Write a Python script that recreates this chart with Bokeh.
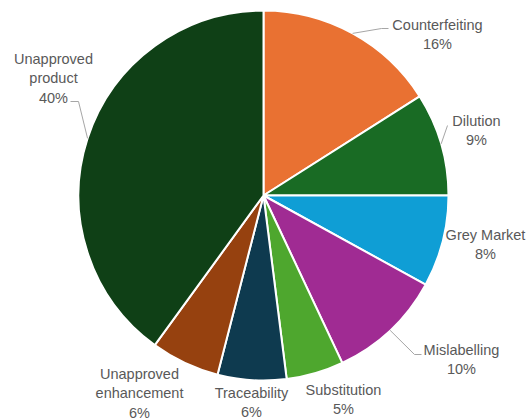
import math
from bokeh.plotting import figure
from bokeh.models import Range1d, ColumnDataSource
from bokeh.core.properties import value
from bokeh.embed import file_html
from bokeh.resources import INLINE

# ---- data ----
categories = ["Counterfeiting", "Dilution", "Grey Market", "Mislabelling",
              "Substitution", "Traceability", "Unapproved enhancement", "Unapproved product"]
shares = [16, 9, 8, 10, 5, 6, 6, 40]
label_lines = [["Counterfeiting"], ["Dilution"], ["Grey Market"], ["Mislabelling"],
               ["Substitution"], ["Traceability"], ["Unapproved", "enhancement"],
               ["Unapproved", "product"]]
colors = ["#E97132", "#196B24", "#0F9ED5", "#A02B93",
          "#4EA72E", "#0E3A4F", "#96410F", "#0F4016"]

# ---- layout (pixel coordinates, top-left origin) ----
W, H = 527, 419
CX, CY, R = 263, 195, 185
# label block: centre x, y of first line
label_pos = [(437, 24), (476, 120), (485, 234), (461, 349),
             (343, 389), (251, 392), (139, 373), (53, 58)]
line_gap = 19.5
# leader lines: elbow points after the rim point (None = no leader)
leaders = [[(381, 28), (388, 28)], [(447, 125)], None, [(414, 354), (421, 354)],
           None, None, None, [(78, 101), (70, 101)]]

p = figure(width=W, height=H, x_range=Range1d(0, W), y_range=Range1d(0, H),
           output_backend="svg", toolbar_location=None,
           x_axis_location=None, y_axis_location=None, min_border=0)
p.grid.visible = False
p.outline_line_color = None
p.background_fill_color = "white"
p.border_fill_color = "white"

total = float(sum(shares))
starts, ends, mids = [], [], []
cum = 0.0
for s in shares:
    a0 = math.pi / 2 - 2 * math.pi * cum / total
    cum += s
    a1 = math.pi / 2 - 2 * math.pi * cum / total
    starts.append(a0)
    ends.append(a1)
    mids.append((a0 + a1) / 2)

src = ColumnDataSource(dict(x=[CX] * len(shares), y=[H - CY] * len(shares),
                            start=starts, end=ends, color=colors, cat=categories))
p.wedge(x="x", y="y", radius=R, start_angle="start", end_angle="end",
        direction="clock", fill_color="color", line_color="white", line_width=2,
        source=src)

# leader lines
for i, pts in enumerate(leaders):
    if not pts:
        continue
    rx = CX + R * math.cos(mids[i])
    ry = (H - CY) + R * math.sin(mids[i])
    xs = [rx] + [q[0] for q in pts]
    ys = [ry] + [H - q[1] for q in pts]
    p.line(xs, ys, line_color="#A6A6A6", line_width=1)

# labels
tx, ty, tt = [], [], []
for i, lines in enumerate(label_lines):
    lx, ly = label_pos[i]
    rows = lines + ["%d%%" % shares[i]]
    for j, t in enumerate(rows):
        tx.append(lx)
        ty.append(H - (ly + j * line_gap))
        tt.append(t)
p.text(x=tx, y=ty, text=tt, text_align="center", text_baseline="middle",
       text_font=value("Liberation Sans"), text_font_size="14.5px",
       text_color="#595959")

open("out.html", "w").write(file_html(p, INLINE))
